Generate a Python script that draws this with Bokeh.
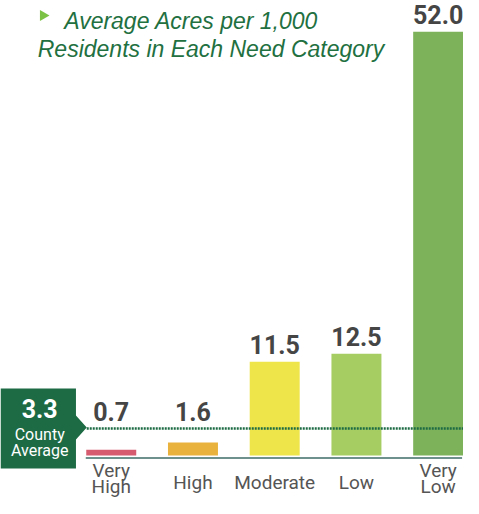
from bokeh.plotting import figure
from bokeh.models import Range1d
from bokeh.core.properties import value
from bokeh.embed import file_html
from bokeh.resources import INLINE
import math

# ---- data ----
categories = ["Very\nHigh", "High", "Moderate", "Low", "Very\nLow"]
acres = [0.7, 1.6, 11.5, 12.5, 52.0]
value_labels = ["0.7", "1.6", "11.5", "12.5", "52.0"]
county_average = 3.3
county_label = "3.3"
title_line1 = "Average Acres per 1,000"
title_line2 = "Residents in Each Need Category"

# ---- layout / style ----
W, H = 463, 498
KX = 0.98                 # horizontal squeeze so that everything fits
SHIFT_Y = 4               # vertical lift so that the bottom labels fit
S_X = 83.4 * KX           # px per category step
S_Y = 8.15                # px per acre
X0 = -(113 * KX) / S_X
Y0 = -(H - (459 - SHIFT_Y)) / S_Y
bar_colors = ["#d65b6e", "#e9b23c", "#eee54a", "#a5cd62", "#7db25a"]
DARK_GREEN = "#1d6b44"
NARROW = "Roboto, 'Liberation Sans', sans-serif"
SANS = "'Liberation Sans', Arial, sans-serif"


def px_x(ref_x):
    return X0 + ref_x * KX / S_X


def px_y(ref_y):
    return Y0 + (H - (ref_y - SHIFT_Y)) / S_Y


p = figure(width=W, height=H, output_backend="svg", toolbar_location=None,
           x_range=Range1d(X0, X0 + W / S_X), y_range=Range1d(Y0, Y0 + H / S_Y),
           min_border=0, min_border_left=0, min_border_right=0,
           min_border_top=0, min_border_bottom=0)
p.axis.visible = False
p.grid.visible = False
p.outline_line_color = None
p.background_fill_color = "white"
p.border_fill_color = "white"

xs = list(range(len(categories)))

# bars
p.vbar(x=xs, top=acres, bottom=0, width=51 * KX / S_X, fill_color=bar_colors, line_color=None)

# baseline
p.segment(x0=[px_x(87)], y0=[px_y(461.5)], x1=[px_x(471)], y1=[px_y(461.5)],
          line_color="#3e6c68", line_width=1.5)

# county average dotted line
p.line(x=[px_x(88), px_x(472)], y=[county_average, county_average],
       line_color=DARK_GREEN, line_width=2.5, line_dash="2 1")

# value labels (centred 17px above the bar top, or above the average line)
label_y = [max(v, county_average) for v in acres]
p.text(x=xs, y=label_y, text=value_labels, text_align="center", text_baseline="middle",
       y_offset=-17, text_font=value(NARROW), text_font_style="bold",
       text_font_size="25px", text_color="#454545")

# category labels
cat_y = [px_y(482) if "\n" in c else px_y(486) for c in categories]
p.text(x=xs, y=cat_y, text=categories, text_align="center",
       text_baseline="middle", text_font=value(NARROW), text_font_size="19px",
       text_color="#555555", text_line_height=0.72)

# county average box with arrow
bx = [px_x(0), px_x(77), px_x(77), px_x(88), px_x(77), px_x(77), px_x(0)]
by = [px_y(392), px_y(392), px_y(419), px_y(431), px_y(443), px_y(472), px_y(472)]
p.patch(x=bx, y=by, fill_color=DARK_GREEN, line_color=None)
p.text(x=[px_x(40)], y=[px_y(412)], text=[county_label], text_align="center",
       text_baseline="middle", text_font=value(NARROW), text_font_style="bold",
       text_font_size="25px", text_color="white")
p.text(x=[px_x(40), px_x(40)], y=[px_y(438), px_y(454)], text=["County", "Average"],
       text_align="center", text_baseline="middle", text_font=value(NARROW),
       text_font_size="16px", text_color="white")

# title
p.scatter(x=[px_x(43.5)], y=[px_y(19)], marker="triangle", size=11, angle=-math.pi / 2,
          fill_color="#7cc246", line_color=None)
p.text(x=[px_x(65)], y=[px_y(24)], text=[title_line1], text_align="left",
       text_baseline="middle", text_font=value(SANS), text_font_style="italic",
       text_font_size="23px", text_color="#22703f")
p.text(x=[px_x(38)], y=[px_y(52)], text=[title_line2], text_align="left",
       text_baseline="middle", text_font=value(SANS), text_font_style="italic",
       text_font_size="23px", text_color="#22703f")

open("out.html", "w").write(file_html(p, INLINE))
